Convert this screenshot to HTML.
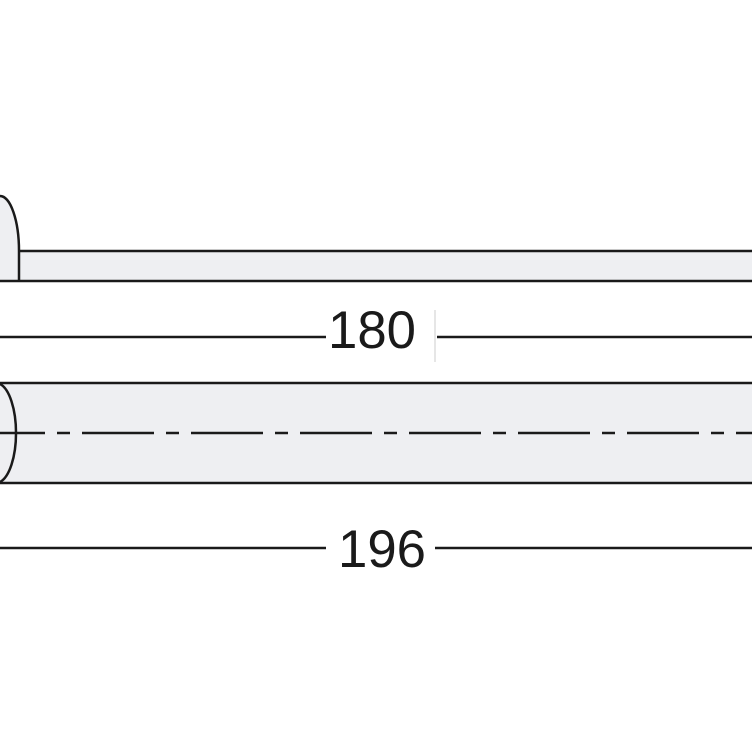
<!DOCTYPE html>
<html><head><style>body{margin:0;background:#fff}svg{display:block}</style></head>
<body>
<svg width="752" height="752" viewBox="0 0 752 752" xmlns="http://www.w3.org/2000/svg">
<rect x="0" y="0" width="752" height="752" fill="#fff"/>
<!-- top bar -->
<path d="M0,196 A19,55 0 0 1 19,251 L19,281 L0,281 Z" fill="#eeeff2"/>
<rect x="19" y="251" width="740" height="30" fill="#eeeff2"/>
<path d="M0,196 A19,55 0 0 1 19,251 L19,281" fill="none" stroke="#1a1a1a" stroke-width="2.5"/>
<line x1="19" y1="251" x2="752" y2="251" stroke="#1a1a1a" stroke-width="2.5"/>
<line x1="0" y1="281" x2="752" y2="281" stroke="#1a1a1a" stroke-width="2.5"/>
<!-- dim 180 -->
<line x1="0" y1="337" x2="326" y2="337" stroke="#1a1a1a" stroke-width="2.5"/>
<line x1="437" y1="337" x2="752" y2="337" stroke="#1a1a1a" stroke-width="2.5"/>
<line x1="435" y1="310" x2="435" y2="362" stroke="#ccc" stroke-width="1"/>
<text x="372" y="348" font-family="Liberation Sans, sans-serif" font-size="53" text-anchor="middle" fill="#1a1a1a" textLength="88" lengthAdjust="spacingAndGlyphs">180</text>
<!-- lower bar -->
<rect x="0" y="383" width="752" height="100" fill="#eeeff2"/>
<line x1="0" y1="383" x2="752" y2="383" stroke="#1a1a1a" stroke-width="2.5"/>
<line x1="0" y1="483" x2="752" y2="483" stroke="#1a1a1a" stroke-width="2.5"/>
<path d="M0,384 A20,50 0 0 1 0,482" fill="none" stroke="#1a1a1a" stroke-width="2.5"/>
<line x1="0" y1="433" x2="752" y2="433" stroke="#1a1a1a" stroke-width="2.5" stroke-dasharray="72 12 13 12" stroke-dashoffset="27"/>
<!-- dim 196 -->
<line x1="0" y1="548" x2="326" y2="548" stroke="#1a1a1a" stroke-width="2.5"/>
<line x1="435" y1="548" x2="752" y2="548" stroke="#1a1a1a" stroke-width="2.5"/>
<text x="382" y="567" font-family="Liberation Sans, sans-serif" font-size="53" text-anchor="middle" fill="#1a1a1a" textLength="88" lengthAdjust="spacingAndGlyphs">196</text>
</svg>
</body></html>
